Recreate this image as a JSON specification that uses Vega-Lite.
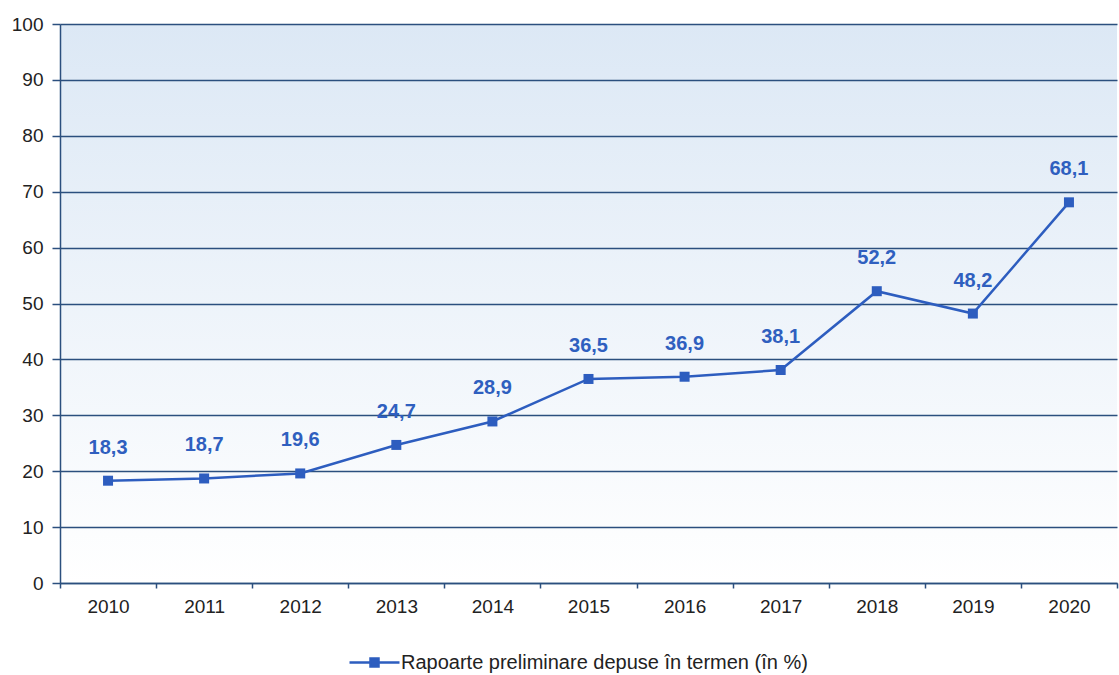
{
  "$schema": "https://vega.github.io/schema/vega-lite/v6.json",
  "width": 1057,
  "height": 559,
  "autosize": {"type": "none"},
  "padding": {"left": 60, "top": 24, "right": 2, "bottom": 92},
  "background": "white",
  "config": {
    "font": "Liberation Sans",
    "view": {
      "stroke": null,
      "fill": {"gradient": "linear", "x1": 0, "y1": 0, "x2": 0, "y2": 1, "stops": [{"offset": 0, "color": "#dce8f5"}, {"offset": 1, "color": "#ffffff"}]}
    }
  },
  "data": {
    "values": [
      {"year": "2010", "value": 18.3, "label": "18,3", "series": "Rapoarte preliminare depuse în termen (în %)"},
      {"year": "2011", "value": 18.7, "label": "18,7", "series": "Rapoarte preliminare depuse în termen (în %)"},
      {"year": "2012", "value": 19.6, "label": "19,6", "series": "Rapoarte preliminare depuse în termen (în %)"},
      {"year": "2013", "value": 24.7, "label": "24,7", "series": "Rapoarte preliminare depuse în termen (în %)"},
      {"year": "2014", "value": 28.9, "label": "28,9", "series": "Rapoarte preliminare depuse în termen (în %)"},
      {"year": "2015", "value": 36.5, "label": "36,5", "series": "Rapoarte preliminare depuse în termen (în %)"},
      {"year": "2016", "value": 36.9, "label": "36,9", "series": "Rapoarte preliminare depuse în termen (în %)"},
      {"year": "2017", "value": 38.1, "label": "38,1", "series": "Rapoarte preliminare depuse în termen (în %)"},
      {"year": "2018", "value": 52.2, "label": "52,2", "series": "Rapoarte preliminare depuse în termen (în %)"},
      {"year": "2019", "value": 48.2, "label": "48,2", "series": "Rapoarte preliminare depuse în termen (în %)"},
      {"year": "2020", "value": 68.1, "label": "68,1", "series": "Rapoarte preliminare depuse în termen (în %)"}
    ]
  },
  "encoding": {
    "x": {
      "field": "year", "type": "ordinal", "bandPosition": 0.5,
      "scale": {"type": "band", "paddingInner": 0, "paddingOuter": 0},
      "axis": {
        "title": null, "labelAngle": 0, "tickBand": "extent", "grid": false,
        "domainColor": "#2b4f7e", "domainWidth": 1.5, "tickColor": "#2b4f7e", "tickWidth": 1.5, "tickSize": 5,
        "labelFontSize": 19, "labelColor": "#222222", "labelPadding": 9
      }
    },
    "y": {
      "field": "value", "type": "quantitative",
      "scale": {"domain": [0, 100], "nice": false},
      "axis": {
        "title": null, "values": [0, 10, 20, 30, 40, 50, 60, 70, 80, 90, 100],
        "grid": true, "gridColor": "#2b4f7e", "gridWidth": 1.5, "gridOpacity": 1,
        "domainColor": "#2b4f7e", "domainWidth": 1.5, "tickColor": "#2b4f7e", "tickWidth": 1.5, "tickSize": 8,
        "labelFontSize": 19, "labelColor": "#222222", "labelPadding": 9
      }
    }
  },
  "layer": [
    {
      "mark": {"type": "line", "strokeWidth": 2.5, "color": "#2d5dbf"},
      "encoding": {
        "color": {
          "field": "series", "type": "nominal",
          "scale": {"range": ["#2d5dbf"]},
          "legend": {
            "title": null, "orient": "none", "legendX": 288, "legendY": 612,
            "symbolType": "M-1,0H-0.16M0.16,0H1M-0.16,-0.16H0.16V0.16H-0.16Z",
            "symbolSize": 2500, "symbolStrokeWidth": 2.5, "symbolFillColor": "#2d5dbf", "symbolStrokeColor": "#2d5dbf",
            "labelFontSize": 20, "labelColor": "#222222", "labelOffset": 0, "labelLimit": 600
          }
        }
      }
    },
    {
      "mark": {"type": "point", "shape": "square", "filled": true, "size": 100, "color": "#2d5dbf", "opacity": 1}
    },
    {
      "mark": {"type": "text", "dy": -33, "fontSize": 20, "fontWeight": "bold", "color": "#2f5fbf"},
      "encoding": {"text": {"field": "label"}}
    }
  ]
}
